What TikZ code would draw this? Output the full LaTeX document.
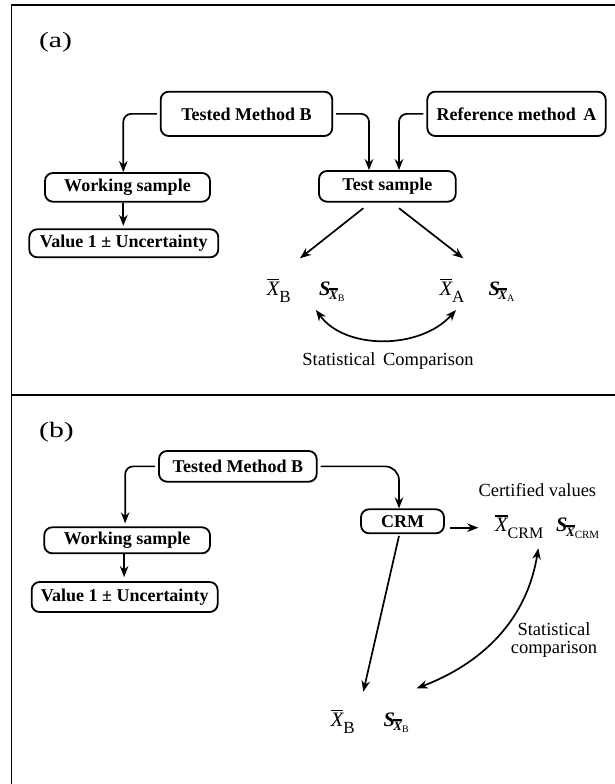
\documentclass[tikz,border=0pt]{standalone}
\usepackage{fontspec}
\setmainfont{Liberation Serif}
\usetikzlibrary{arrows.meta}

% mean value: italic X with a heavy bar, large subscript
\newcommand\barX[2]{\vbox{\hrule height #1\kern #2\hbox{\itshape X}}}
\newcommand\xmean[2][17]{\barX{1.6pt}{1.3pt}\raisebox{-7pt}{\fontsize{#1}{#1}\selectfont #2}}
% standard deviation of the mean: S with barred X and a small subscript
\newcommand\smean[2][10]{{\bfseries\itshape S}\kern-1.5pt\raisebox{-4.5pt}{\fontsize{13}{13}\selectfont\bfseries\barX{1.9pt}{0.8pt}\raisebox{-1.8pt}{\mdseries\fontsize{#1}{#1}\selectfont #2}}}

\tikzset{
  frame/.style={line width=1.8pt, line cap=rect},
  box/.style={draw, line width=1.8pt, rounded corners=8pt, inner sep=0pt,
              font=\fontsize{18}{20}\selectfont\bfseries},
  arr/.style={line width=1.7pt, -{Stealth[length=11pt,width=8.5pt,inset=3.5pt]}},
  arrboth/.style={line width=1.7pt, {Stealth[length=11pt,width=8.5pt,inset=3.5pt]}-{Stealth[length=11pt,width=8.5pt,inset=3.5pt]}},
  sym/.style={anchor=base west, inner sep=0pt, font=\fontsize{20.5}{22}\selectfont},
  plain/.style={inner sep=0pt, font=\fontsize{18.5}{18.3}\selectfont},
  panel/.style={inner sep=0pt, font=\fontsize{22}{24}\selectfont}
}

\begin{document}
\begin{tikzpicture}[x=1pt,y=-1pt]
\useasboundingbox (0,0) rectangle (615,784);

% outer frame and divider
\draw[frame] (11.5,790) -- (11.5,5) -- (620,5);
\draw[frame] (11.5,395) -- (620,395);

% ---------------- panel (a) ----------------
\node[panel] (labA) at (55.5,42.5) {\scalebox{1.35}[1]{(a)}};

\node[box, minimum width=171.6pt, minimum height=44.3pt] (tmbA) at (246.5,113.85) {Tested Method B};
\node[box, minimum width=178.4pt, minimum height=44.3pt] (rmaA) at (516.5,113.85) {Reference method\, A};
\node[box, minimum width=165pt, minimum height=28.7pt] (wsA) at (127.5,187.35) {Working sample};
\node[box, minimum width=189pt, minimum height=28pt] (valA) at (123.8,243.3) {Value 1 ± Uncertainty};
\node[box, minimum width=136.7pt, minimum height=30.7pt] (tsA) at (387.35,186.35) {Test sample};

\node[sym] (xbBa) at (266.7,295) {\xmean{B}};
\node[sym] (sBa)  at (319,295)   {\smean{B}};
\node[sym] (xbAa) at (439.3,295) {\xmean{A}};
\node[sym] (sAa)  at (488.3,295) {\smean{A}};

\node[plain, anchor=base] (cmpA) at (388,365.5) {Statistical\, Comparison};

\coordinate (tipBa) at (300,258.3);
\coordinate (tipAa) at (463.3,258.3);
\coordinate (cmpL) at (316,310);
\coordinate (cmpR) at (456,310);

\draw[arr, rounded corners=8pt, shorten <=3pt] (tmbA.west) -| ([xshift=-4.2pt]wsA.north);
\draw[arr, rounded corners=8pt, shorten <=3pt] (tmbA.east) -| ([xshift=-18.35pt]tsA.north);
\draw[arr, rounded corners=8pt, shorten <=3pt] (rmaA.west) -| ([xshift=11.65pt]tsA.north);
\draw[arr, shorten >=2.5pt] ([xshift=-4.2pt]wsA.south) -- ([xshift=-4.2pt]wsA.south |- valA.north);
\draw[arr] ([xshift=-24pt,yshift=-5.6pt]tsA.south) -- (tipBa);
\draw[arr] ([xshift=11.65pt,yshift=-5.6pt]tsA.south) -- (tipAa);
\draw[arrboth] (cmpL) .. controls (345,350) and (420,350) .. (cmpR);

% ---------------- panel (b) ----------------
\node[panel] (labB) at (56.5,432) {\scalebox{1.35}[1]{(b)}};

\node[box, minimum width=157.7pt, minimum height=30.7pt] (tmbB) at (237.85,466.35) {Tested Method B};
\node[box, minimum width=165.7pt, minimum height=26pt] (wsB) at (127.15,540.3) {Working sample};
\node[box, minimum width=186pt, minimum height=30pt] (valB) at (124.65,597) {Value 1 ± Uncertainty};
\node[box, minimum width=83pt, minimum height=24pt] (crm) at (402.5,521.3) {CRM};

\node[plain, anchor=base west] (cert) at (478.3,496.7) {Certified values};
\node[sym] (xbCRM) at (495,531.7) {\xmean[16]{CRM}};
\node[sym] (sCRM)  at (556,531.7) {\smean[11]{CRM}};

\node[sym] (xbBb) at (330.7,726) {\xmean{B}};
\node[sym] (sBb)  at (383.3,726) {\smean{B}};

\node[plain, align=center] (cmpB) at (554,640) {Statistical\\comparison};

\coordinate (crmTip) at (478.3,527.7);
\coordinate (tipBb) at (363.3,691.7);
\coordinate (scTop) at (538.3,548.3);
\coordinate (scBot) at (416.7,688.3);

\draw[arr, rounded corners=8pt, shorten <=3pt, shorten >=3pt] (tmbB.west) -| ([xshift=-2pt]wsB.north);
\draw[arr, rounded corners=14pt, shorten <=3pt] (tmbB.east) -| ([xshift=-3.5pt]crm.north);
\draw[arr, shorten >=4pt] ([xshift=-3pt]wsB.south) -- ([xshift=-3pt]wsB.south |- valB.north);
\draw[arr] ([xshift=5pt,yshift=-6.4pt]crm.east) -- (crmTip);
\draw[arr] ([xshift=-3.5pt,yshift=-1.7pt]crm.south) -- (tipBb);
\draw[arrboth] (scTop) .. controls (525,630) and (470,668) .. (scBot);
\end{tikzpicture}
\end{document}
